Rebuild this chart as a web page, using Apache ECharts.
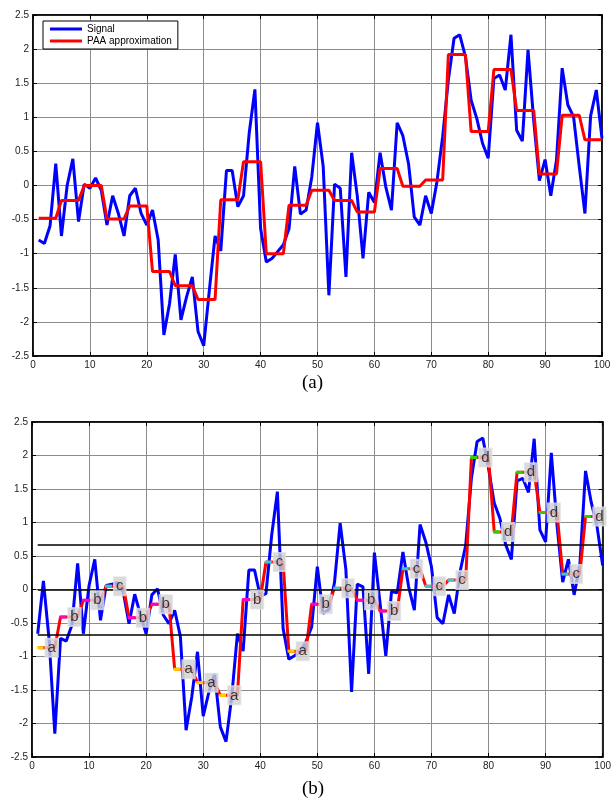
<!DOCTYPE html>
<html><head><meta charset="utf-8">
<script src="https://cdn.jsdelivr.net/npm/echarts@6/dist/echarts.min.js"></script>
<style>html,body{margin:0;padding:0;background:#fff}#c{width:614px;height:802px}</style>
</head><body><div id="c"></div>
<script>
// ---- data ----
const signalA = [-0.80,-0.85,-0.59,0.32,-0.74,0.00,0.39,-0.53,0.02,-0.04,
  0.11,-0.07,-0.58,-0.15,-0.41,-0.74,-0.15,-0.04,-0.41,-0.58,
  -0.36,-0.80,-2.19,-1.73,-1.01,-1.97,-1.63,-1.34,-2.14,-2.35,
  -1.53,-0.74,-0.96,0.22,0.22,-0.31,-0.15,0.77,1.41,-0.63,
  -1.12,-1.07,-0.97,-0.87,-0.63,0.28,-0.42,-0.36,0.13,0.92,
  0.28,-1.61,0.02,-0.04,-1.34,0.48,-0.16,-1.07,-0.10,-0.25,
  0.48,-0.02,-0.36,0.92,0.73,0.32,-0.46,-0.58,-0.15,-0.41,
  0.06,0.72,1.55,2.16,2.21,1.89,1.25,0.98,0.62,0.40,
  1.57,1.62,1.40,2.21,0.81,0.65,1.99,0.95,0.07,0.38,
  -0.15,0.37,1.72,1.18,1.01,0.28,-0.41,1.02,1.40,0.69];
const paaA = [-0.48,-0.22,0.00,-0.49,-0.30,-1.26,-1.47,-1.67,-0.21,0.35,
  -1.00,-0.29,-0.07,-0.22,-0.39,0.25,-0.01,0.08,1.92,0.79,1.70,1.10,0.17,1.03,0.67];
const signalB = [-0.66,0.13,-0.75,-2.15,-0.73,-0.77,-0.53,0.39,-0.66,0.06,
  0.45,-0.46,0.06,0.08,0.10,-0.04,-0.51,-0.07,-0.38,-0.66,
  -0.08,0.01,-0.38,-0.51,-0.31,-0.70,-2.10,-1.60,-0.93,-1.89,
  -1.53,-1.26,-2.05,-2.27,-1.60,-0.66,-0.92,0.29,0.29,-0.10,
  -0.06,0.81,1.46,-0.58,-1.04,-0.99,-0.93,-0.78,-0.56,0.34,
  -0.36,-0.30,0.10,0.99,0.30,-1.53,0.08,0.04,-1.26,0.55,
  -0.21,-0.99,-0.03,-0.05,0.56,0.04,-0.31,0.97,0.71,0.34,
  -0.42,-0.51,-0.08,-0.36,0.26,0.66,1.66,2.21,2.26,1.81,
  1.29,1.06,0.67,0.45,1.62,1.66,1.45,2.25,0.89,0.71,
  2.04,0.96,0.11,0.45,-0.08,0.36,1.77,1.30,0.95,0.36];
const paaB = [-0.87,-0.41,-0.16,0.05,-0.42,-0.22,-1.19,-1.39,-1.58,-0.15,
  0.41,-0.92,-0.22,0.02,-0.16,-0.32,0.31,0.05,0.14,1.97,0.86,1.75,1.15,0.23,1.09];
const saxLetters = ['a','b','b','c','b','b','a','a','a','b','c','a','b','c','b','b','c','c','c','d','d','d','d','c','d'];
const breakpoints = [-0.67, 0, 0.67];
const legendNames = ['Signal','PAA approximation'];
const captions = ['(a)','(b)'];

// ---- build ----
const SEG = 4;
const letterColors = {a:'#ffff00', b:'#ff00ff', c:'#00ffff', d:'#00ff00'};
const pts = arr => arr.map((v,i)=>[i+1, v]);
const steps = paa => paa.flatMap((v,k)=>Array.from({length:SEG},(_,j)=>[k*SEG+j+1, v]));
const FONT = 'Liberation Sans, Arial, sans-serif';

function xAx(g, pos, main){
  return {type:'value', gridIndex:g, position:pos, min:0, max:100, interval:10,
    axisLine:{show:true, onZero:false, lineStyle:{color:'#000', width:1.5}},
    axisTick:{show:true, inside:true, length:4, lineStyle:{color:'#000', width:1}},
    axisLabel:{show:main, color:'#222', fontSize:10, margin:4, fontFamily:FONT},
    splitLine:{show:main, lineStyle:{color:'#8c8c8c', width:1}}};
}
function yAx(g, pos, main){
  return {type:'value', gridIndex:g, position:pos, min:-2.5, max:2.5, interval:0.5,
    axisLine:{show:true, onZero:false, lineStyle:{color:'#000', width:1.5}},
    axisTick:{show:true, inside:true, length:4, lineStyle:{color:'#000', width:1}},
    axisLabel:{show:main, color:'#222', fontSize:10, margin:4, fontFamily:FONT},
    splitLine:{show:main, lineStyle:{color:'#8c8c8c', width:1}}};
}

const markers = paaB.map((v,k)=>({
  value:[k*SEG+1.4, v], letter:saxLetters[k],
  itemStyle:{color:letterColors[saxLetters[k]]}
}));

const option = {
  animation:false,
  backgroundColor:'#fff',
  title:[
    {text:captions[0], left:297, top:369, textStyle:{fontFamily:'Liberation Serif, Times New Roman, serif', fontSize:19, fontWeight:'normal', color:'#000'}},
    {text:captions[1], left:297, top:775, textStyle:{fontFamily:'Liberation Serif, Times New Roman, serif', fontSize:19, fontWeight:'normal', color:'#000'}}
  ],
  legend:{data:legendNames, orient:'vertical', left:43, top:21, backgroundColor:'#fff',
    borderColor:'#000', borderWidth:1, borderRadius:0, padding:[3,6,3,7], itemGap:2,
    itemWidth:32, itemHeight:3, icon:'rect',
    textStyle:{fontSize:10, color:'#000', fontFamily:FONT}},
  grid:[
    {left:33, top:15, width:569, height:341, show:true, borderColor:'#000', borderWidth:1.5},
    {left:32, top:422, width:571, height:335, show:true, borderColor:'#000', borderWidth:1.5}
  ],
  xAxis:[xAx(0,'bottom',true), xAx(0,'top',false), xAx(1,'bottom',true), xAx(1,'top',false)],
  yAxis:[yAx(0,'left',true), yAx(0,'right',false), yAx(1,'left',true), yAx(1,'right',false)],
  series:[
    {name:legendNames[0], type:'line', xAxisIndex:0, yAxisIndex:0, data:pts(signalA),
      symbol:'none', color:'#0000ff', lineStyle:{color:'#0000ff', width:3}, z:2},
    {name:legendNames[1], type:'line', xAxisIndex:0, yAxisIndex:0, data:steps(paaA),
      symbol:'none', color:'#ff0000', lineStyle:{color:'#ff0000', width:3}, z:3},
    {name:'signalB', type:'line', xAxisIndex:2, yAxisIndex:2, data:pts(signalB),
      symbol:'none', color:'#0000ff', lineStyle:{color:'#0000ff', width:3}, z:2,
      markLine:{silent:true, symbol:'none', label:{show:false},
        lineStyle:{color:'#000', width:1.5, type:'solid'},
        data:breakpoints.map(b=>[{coord:[1,b]},{coord:[signalB.length,b]}])}},
    {name:'paaB', type:'line', xAxisIndex:2, yAxisIndex:2, data:steps(paaB),
      symbol:'none', color:'#ff0000', lineStyle:{color:'#ff0000', width:3}, z:3},
    {name:'sax', type:'scatter', xAxisIndex:2, yAxisIndex:2, data:markers,
      symbol:'rect', symbolSize:[7,3], z:5,
      label:{show:true, position:'right', distance:2, formatter:p=>p.data.letter,
        backgroundColor:'#d2d2d2', borderColor:'#e2e2e2', borderWidth:1,
        padding:[1,2,1,2], fontSize:15, lineHeight:16, color:'#111', fontFamily:FONT}}
  ]
};
const chart = echarts.init(document.getElementById('c'), null, {renderer:'canvas'});
chart.setOption(option);
</script></body></html>
